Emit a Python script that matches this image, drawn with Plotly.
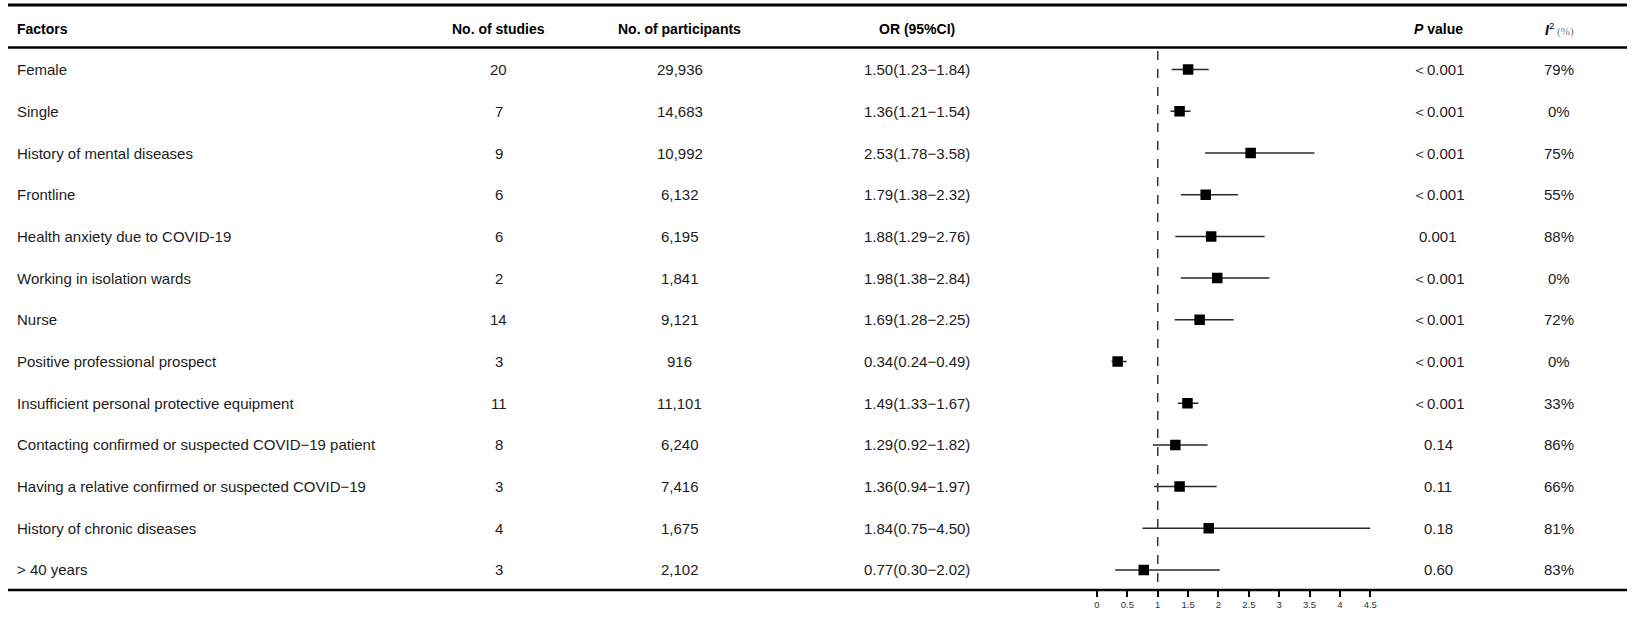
import plotly.graph_objects as go

# ---- data ----
factors = [
    "Female",
    "Single",
    "History of mental diseases",
    "Frontline",
    "Health anxiety due to COVID-19",
    "Working in isolation wards",
    "Nurse",
    "Positive professional prospect",
    "Insufficient personal protective equipment",
    "Contacting confirmed or suspected COVID\u221219 patient",
    "Having a relative confirmed or suspected COVID\u221219",
    "History of chronic diseases",
    "> 40 years",
]
n_studies = [20, 7, 9, 6, 6, 2, 14, 3, 11, 8, 3, 4, 3]
n_participants = ["29,936", "14,683", "10,992", "6,132", "6,195", "1,841", "9,121",
                  "916", "11,101", "6,240", "7,416", "1,675", "2,102"]
or_est = [1.50, 1.36, 2.53, 1.79, 1.88, 1.98, 1.69, 0.34, 1.49, 1.29, 1.36, 1.84, 0.77]
ci_low = [1.23, 1.21, 1.78, 1.38, 1.29, 1.38, 1.28, 0.24, 1.33, 0.92, 0.94, 0.75, 0.30]
ci_high = [1.84, 1.54, 3.58, 2.32, 2.76, 2.84, 2.25, 0.49, 1.67, 1.82, 1.97, 4.50, 2.02]
p_values = ["\uff1c0.001", "\uff1c0.001", "\uff1c0.001", "\uff1c0.001", "0.001",
            "\uff1c0.001", "\uff1c0.001", "\uff1c0.001", "\uff1c0.001",
            "0.14", "0.11", "0.18", "0.60"]
i2_values = ["79%", "0%", "75%", "55%", "88%", "0%", "72%", "0%", "33%",
             "86%", "66%", "81%", "83%"]
x_ticks = [0, 0.5, 1, 1.5, 2, 2.5, 3, 3.5, 4, 4.5]
x_tick_labels = ["0", "0.5", "1", "1.5", "2", "2.5", "3", "3.5", "4", "4.5"]

W, H = 1638, 618
FONT = "Liberation Sans, Arial, sans-serif"
TXT = "#1c1c1c"


def px_x(p):
    return p / W


def px_y(p):
    return 1 - p / H


rows = list(range(len(factors)))

fig = go.Figure()
fig.add_trace(go.Scatter(
    x=or_est,
    y=rows,
    mode="markers",
    marker=dict(symbol="square", size=10.5, color="black"),
    error_x=dict(
        type="data",
        symmetric=False,
        array=[h - o for h, o in zip(ci_high, or_est)],
        arrayminus=[o - l for o, l in zip(or_est, ci_low)],
        width=0,
        thickness=1.5,
        color="#2a2a2a",
    ),
    showlegend=False,
    hoverinfo="skip",
))

annotations = []

# column headers
header_y = px_y(29)
col_x = {"factor": 12, "studies": 499, "participants": 681, "or": 920, "p": 1444, "i2": 1566}
headers = [
    ("factor", "<b>Factors</b>", "left"),
    ("studies", "<b>No. of studies</b>", "center"),
    ("participants", "<b>No. of participants</b>", "center"),
    ("or", "<b>OR (95%CI)</b>", "center"),
    ("p", "<b><i>P</i> value</b>", "center"),
    ("i2", "<b><i>I</i></b><sup>2</sup>"
           "<span style='font-size:11px;color:#777;font-family:Liberation Serif,serif'> (%)</span>",
     "center"),
]
for key, text, anchor in headers:
    annotations.append(dict(
        x=px_x(col_x[key]), y=header_y, xref="paper", yref="paper",
        text=text, showarrow=False, xanchor=anchor, yanchor="middle",
        font=dict(family=FONT, size=14, color="black"),
    ))

# table body
for i in rows:
    cells = [
        ("factor", factors[i], "left"),
        ("studies", str(n_studies[i]), "center"),
        ("participants", n_participants[i], "center"),
        ("or", f"{or_est[i]:.2f}({ci_low[i]:.2f}\u2212{ci_high[i]:.2f})", "center"),
        ("p", p_values[i], "center"),
        ("i2", i2_values[i], "center"),
    ]
    for key, text, anchor in cells:
        annotations.append(dict(
            x=px_x(col_x[key]), y=i, xref="paper", yref="y",
            text=text, showarrow=False, xanchor=anchor, yanchor="middle",
            font=dict(family=FONT, size=15, color=TXT),
        ))

shapes = [
    # table rules
    dict(type="line", xref="paper", yref="paper", x0=px_x(5), x1=px_x(1634),
         y0=px_y(5), y1=px_y(5), line=dict(color="black", width=3)),
    dict(type="line", xref="paper", yref="paper", x0=px_x(5), x1=px_x(1634),
         y0=px_y(47.5), y1=px_y(47.5), line=dict(color="black", width=2.5)),
    dict(type="line", xref="paper", yref="paper", x0=px_x(5), x1=px_x(1634),
         y0=px_y(590), y1=px_y(590), line=dict(color="black", width=2.5)),
    # reference line at OR = 1
    dict(type="line", xref="x", yref="paper", x0=1, x1=1,
         y0=px_y(51), y1=px_y(589), line=dict(color="#333333", width=1.5, dash="dash")),
]

fig.update_layout(
    width=W, height=H,
    margin=dict(l=0, r=0, t=0, b=0),
    paper_bgcolor="white", plot_bgcolor="white",
    xaxis=dict(
        domain=[px_x(1100.7), px_x(1375.7)],
        range=[0, 4.5],
        tickvals=x_ticks, ticktext=x_tick_labels,
        ticks="outside", ticklen=6, tickwidth=1.5, tickcolor="black",
        showline=False, showgrid=False, zeroline=False,
        tickfont=dict(family=FONT, size=9.5, color="#333333"),
    ),
    yaxis=dict(
        domain=[px_y(590), px_y(47.5)],
        range=[12.48, -0.53],
        visible=False,
    ),
    annotations=annotations,
    shapes=shapes,
)

fig.write_html("out.html")
